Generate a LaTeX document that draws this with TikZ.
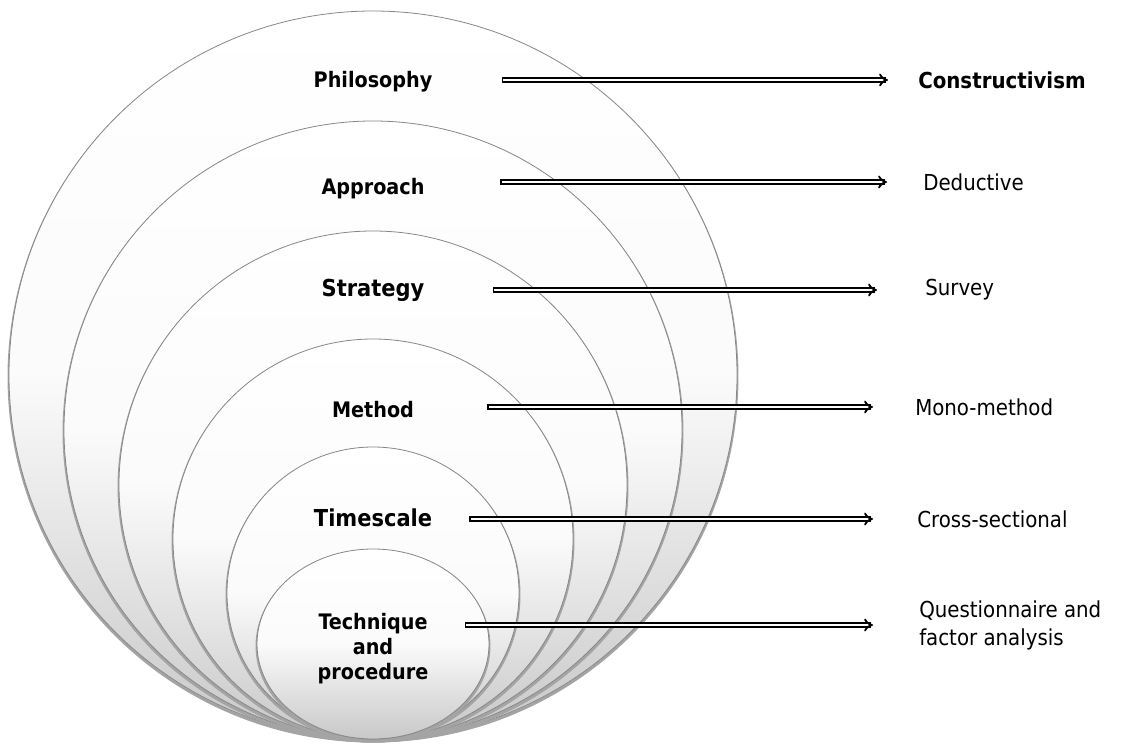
\documentclass[tikz,border=0pt]{standalone}
\usepackage{fontspec}
\setmainfont{DejaVu Sans Condensed}
\usetikzlibrary{arrows.meta}
\usetikzlibrary{calc}
\definecolor{ringedge}{RGB}{135,135,135}
\definecolor{ringbottom}{RGB}{200,200,200}
\definecolor{shadowgray}{RGB}{90,90,90}

\begin{document}
\begin{tikzpicture}[x=0.75pt, y=-0.75pt,
        ring/.style={draw=ringedge, line width=0.6pt, top color=white, bottom color=ringbottom, middle color=white!92!ringbottom},
        ringshadow/.style={draw=shadowgray!55, line width=2.2pt},
        layer/.style={font=\fontsize{16}{18.75}\selectfont\bfseries, inner sep=0pt, align=center},
        biglayer/.style={layer, font=\fontsize{17.5}{21}\selectfont\bfseries},
        choice/.style={font=\fontsize{16.5}{21}\selectfont, inner sep=0pt, anchor=west, align=left},
        dblarrow/.style={double, double distance=1.7pt, line width=1.4pt, line cap=rect, -{Implies}}]
    \useasboundingbox (0,0) rectangle (1127,748);
    % nested layers, outer one first
    \foreach \r in {364,309,254,200,146}{
        \draw[ringshadow] (373,{741-\r}) circle (\r);
        \path[ring]       (373,{739-\r}) circle (\r);
    }
    \draw[ringshadow] (373,646) ellipse (116 and 95);
    \path[ring]       (373,644) ellipse (116 and 95);
    % layer names
    \node[layer]    (philo)  at (373, 82) {Philosophy};
    \node[layer]    (appr)   at (373,189) {Approach};
    \node[biglayer] (strat)  at (373,290) {Strategy};
    \node[layer]    (meth)   at (373,410) {Method};
    \node[biglayer] (time)   at (373,518) {Timescale};
    \node[layer]    (techn)  at (373,649) {Technique\\and\\procedure};
    % choices made
    \node[choice, font=\fontsize{16.5}{21}\selectfont\bfseries] (constr) at (918, 80) {Constructivism};
    \node[choice] (deduct) at (923,182) {Deductive};
    \node[choice] (survey) at (925,290) {Survey};
    \node[choice] (mono)   at (915,407) {Mono-method};
    \node[choice] (cross)  at (917,519) {Cross-sectional};
    \node[choice] (quest)  at (919,625) {Questionnaire and\\factor analysis};
    % arrows
    \draw[dblarrow] ([xshift=54pt]philo.east |- constr.west)    -- ([xshift=-22.5pt]constr.west);
    \draw[dblarrow] ([xshift=58.5pt]appr.east |- deduct.west)   -- ([xshift=-27pt]deduct.west);
    \draw[dblarrow] ([xshift=53.25pt]strat.east |- survey.west) -- ([xshift=-36pt]survey.west);
    \draw[dblarrow] ([xshift=57pt]meth.east |- mono.west)       -- ([xshift=-31.5pt]mono.west);
    \draw[dblarrow] ([xshift=30pt]time.east |- cross.west)      -- ([xshift=-33pt]cross.west);
    \draw[dblarrow] ([xshift=29.25pt]techn.east |- quest.west)  -- ([xshift=-34.5pt]quest.west);
\end{tikzpicture}
\end{document}
